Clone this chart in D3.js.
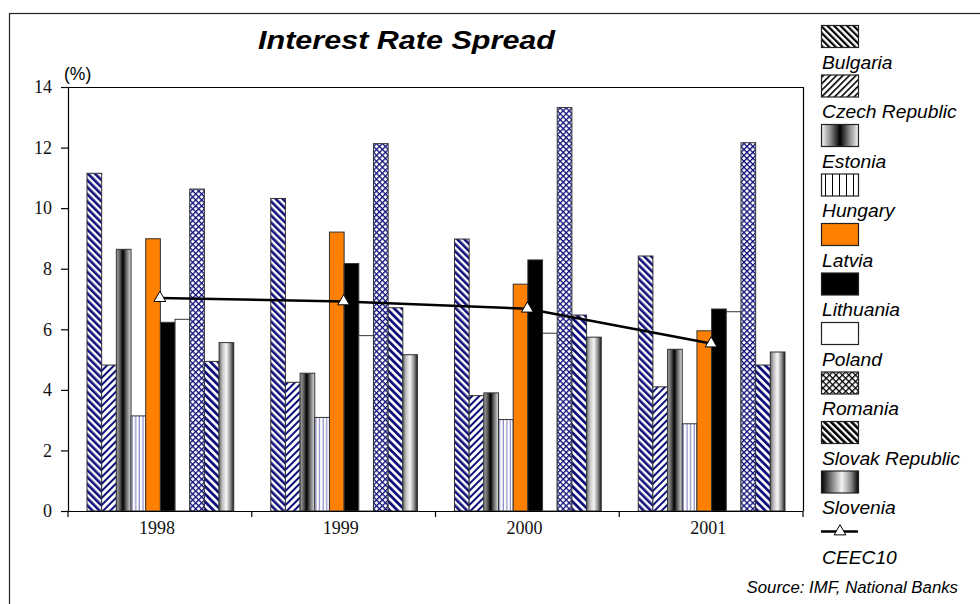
<!DOCTYPE html>
<html>
<head>
<meta charset="utf-8">
<script src="https://cdn.jsdelivr.net/npm/d3@7"></script>
<style>
  html, body { margin: 0; padding: 0; background: #fff; }
  svg { display: block; }
</style>
</head>
<body>
<svg id="chart" width="980" height="604"></svg>
<script>
// Interest rate spread by country, 1998–2001 (%)
const years = ["1998", "1999", "2000", "2001"];
const countries = ["Bulgaria", "Czech Republic", "Estonia", "Hungary", "Latvia",
  "Lithuania", "Poland", "Romania", "Slovak Republic", "Slovenia"];
const bulgaria  = [11.15, 10.32, 8.98, 8.42];
const czech     = [4.82, 4.25, 3.81, 4.10];
const estonia   = [8.64, 4.55, 3.90, 5.34];
const hungary   = [3.14, 3.09, 3.02, 2.88];
const latvia    = [8.99, 9.21, 7.49, 5.95];
const lithuania = [6.23, 8.17, 8.29, 6.67];
const poland    = [6.33, 5.79, 5.87, 6.58];
const romania   = [10.63, 12.13, 13.32, 12.16];
const slovak    = [4.94, 6.71, 6.47, 4.82];
const slovenia  = [5.56, 5.16, 5.74, 5.25];
const ceec10    = [7.03, 6.92, 6.68, 5.53];
const yTicks = [0, 2, 4, 6, 8, 10, 12, 14];

const seriesValues = [bulgaria, czech, estonia, hungary, latvia,
  lithuania, poland, romania, slovak, slovenia];

const svg = d3.select("#chart");
const defs = svg.append("defs");

// --- fills -------------------------------------------------------------
function stripes(id, color, angle, period, width) {
  const p = defs.append("pattern").attr("id", id)
    .attr("patternUnits", "userSpaceOnUse")
    .attr("width", period).attr("height", period)
    .attr("patternTransform", `rotate(${angle})`);
  p.append("rect").attr("width", period).attr("height", period).attr("fill", "#fff");
  p.append("rect").attr("x", 0).attr("y", 0).attr("width", width).attr("height", period).attr("fill", color);
}
function cross(id, color, period, width) {
  const p = defs.append("pattern").attr("id", id)
    .attr("patternUnits", "userSpaceOnUse")
    .attr("width", period).attr("height", period)
    .attr("patternTransform", "rotate(45)");
  p.append("rect").attr("width", period).attr("height", period).attr("fill", "#fff");
  p.append("rect").attr("width", width).attr("height", period).attr("fill", color);
  p.append("rect").attr("width", period).attr("height", width).attr("fill", color);
}
function vlines(id, color, period, width) {
  const p = defs.append("pattern").attr("id", id)
    .attr("patternUnits", "userSpaceOnUse")
    .attr("width", period).attr("height", period);
  p.append("rect").attr("width", period).attr("height", period).attr("fill", "#fff");
  p.append("rect").attr("x", period - width).attr("width", width).attr("height", period).attr("fill", color);
}
function gradient(id, stops) {
  const g = defs.append("linearGradient").attr("id", id)
    .attr("x1", "0%").attr("x2", "100%").attr("y1", "0%").attr("y2", "0%");
  stops.forEach(([o, c]) => g.append("stop").attr("offset", o).attr("stop-color", c));
}
const navy = "#10107a";
stripes("bul", navy, -45, 5, 2.6);
stripes("cze", navy, 45, 5, 2.0);
gradient("est", [[0, "#a8a8a8"], [0.25, "#5a5a5a"], [0.45, "#000"], [0.7, "#707070"], [1, "#e2e2e2"]]);
vlines("hun", "#8a8ac8", 3.6, 1.2);
cross("rom", navy, 4.2, 1.3);
stripes("slk", navy, -45, 5.4, 2.8);
gradient("slv", [[0, "#6a6a6a"], [0.25, "#c8c8c8"], [0.5, "#f6f6f6"], [0.78, "#8a8a8a"], [1, "#1a1a1a"]]);

// legend swatch fills (black on white)
stripes("lbul", "#000", -45, 4.6, 2.2);
stripes("lcze", "#000", 45, 4.6, 1.6);
gradient("lest", [[0, "#f4f4f4"], [0.25, "#888"], [0.5, "#000"], [0.75, "#888"], [1, "#f4f4f4"]]);
vlines("lhun", "#000", 7, 1);
cross("lrom", "#000", 4.6, 1.3);
stripes("lslk", "#000", -45, 4.8, 2.6);
gradient("lslv", [[0, "#000"], [0.3, "#8a8a8a"], [0.55, "#f4f4f4"], [0.8, "#8a8a8a"], [1, "#000"]]);

const barFills = ["url(#bul)", "url(#cze)", "url(#est)", "url(#hun)", "#ff8000",
  "#000", "#fff", "url(#rom)", "url(#slk)", "url(#slv)"];
const legendFills = ["url(#lbul)", "url(#lcze)", "url(#lest)", "url(#lhun)", "#ff8000",
  "#000", "#fff", "url(#lrom)", "url(#lslk)", "url(#lslv)"];

const sans = "'Liberation Sans', Arial, sans-serif";
const serif = "'Liberation Serif', 'Times New Roman', serif";

// --- frame ---------------------------------------------------------------
svg.append("rect").attr("x", 9.5).attr("y", 13.5).attr("width", 1000).attr("height", 620)
  .attr("fill", "none").attr("stroke", "#222").attr("stroke-width", 1.2);

// --- scales --------------------------------------------------------------
const plot = { left: 68, right: 803, top: 87, bottom: 511 };
const x0 = d3.scaleBand().domain(years).range([plot.left, plot.right]).padding(0);
const bw = x0.bandwidth();
const x1 = d3.scaleBand().domain(countries).range([19, bw - 18]).padding(0);
const y = d3.scaleLinear().domain([0, 14]).range([plot.bottom, plot.top]);

// plot border (top and right)
svg.append("path")
  .attr("d", `M${plot.left},${plot.top + 0.5}H${plot.right + 0.5}V${plot.bottom}`)
  .attr("fill", "none").attr("stroke", "#000").attr("stroke-width", 1.2);

// --- bars ----------------------------------------------------------------
const groups = svg.append("g").selectAll("g").data(years).join("g")
  .attr("transform", d => `translate(${x0(d)},0)`);
groups.selectAll("rect")
  .data((yr, yi) => countries.map((c, ci) => ({ c, ci, v: seriesValues[ci][yi] })))
  .join("rect")
  .attr("x", d => x1(d.c))
  .attr("y", d => y(d.v))
  .attr("width", x1.bandwidth())
  .attr("height", d => y(0) - y(d.v))
  .attr("fill", d => barFills[d.ci])
  .attr("stroke", "#333").attr("stroke-width", 1);

// --- axes ----------------------------------------------------------------
const yAxis = svg.append("g").attr("transform", `translate(${plot.left},0)`)
  .call(d3.axisLeft(y).tickValues(yTicks).tickFormat(d3.format("d")).tickSize(7).tickPadding(9));
yAxis.select(".domain").attr("stroke-width", 1.2);
yAxis.selectAll("line").attr("stroke-width", 1.2);
yAxis.selectAll("text").attr("font-family", serif).attr("font-size", 18).attr("fill", "#111");

const xAxis = svg.append("g").attr("transform", `translate(0,${plot.bottom})`)
  .call(d3.axisBottom(x0).tickSize(0).tickPadding(10));
xAxis.select(".domain").attr("stroke-width", 1.2).attr("d", `M${plot.left},0.5H${plot.right}`);
xAxis.selectAll("text").attr("font-family", serif).attr("font-size", 18).attr("fill", "#111").attr("dx", -3);
// category boundary ticks
const bounds = years.map(d => x0(d)).concat([plot.right]);
xAxis.selectAll("line.bound").data(bounds).join("line").attr("class", "bound")
  .attr("x1", d => d).attr("x2", d => d).attr("y1", 0).attr("y2", 6)
  .attr("stroke", "#000").attr("stroke-width", 1.2);

svg.append("text").attr("x", 64).attr("y", 80)
  .attr("font-family", sans).attr("font-size", 17.5)
  .text("(%)");

// --- CEEC10 average line ---------------------------------------------------
const pts = years.map((yr, i) => [x0(yr) + bw / 2, y(ceec10[i])]);
svg.append("path").attr("d", d3.line()(pts))
  .attr("fill", "none").attr("stroke", "#000").attr("stroke-width", 2.5);
const tri = d3.symbol().type(d3.symbolTriangle).size(60);
svg.selectAll("path.mk").data(pts).join("path").attr("class", "mk")
  .attr("transform", d => `translate(${d[0]},${d[1]})`)
  .attr("d", tri()).attr("fill", "#fff").attr("stroke", "#000").attr("stroke-width", 1);

// --- title -----------------------------------------------------------------
svg.append("text").attr("x", 406.5).attr("y", 49).attr("text-anchor", "middle")
  .attr("font-family", sans).attr("font-size", 25)
  .attr("font-weight", "bold").attr("font-style", "italic")
  .attr("textLength", 297).attr("lengthAdjust", "spacingAndGlyphs")
  .text("Interest Rate Spread");

// --- legend ----------------------------------------------------------------
const lg = svg.append("g");
const pitch = 49.5;
const legendLabel = (txt, yPos) => lg.append("text")
  .attr("transform", `translate(822,${yPos}) scale(1.04,1)`)
  .attr("font-family", sans).attr("font-size", 18.5)
  .attr("font-style", "italic").text(txt);
countries.forEach((c, i) => {
  lg.append("rect").attr("x", 821.5).attr("y", 25.5 + i * pitch).attr("width", 37).attr("height", 22)
    .attr("fill", legendFills[i]).attr("stroke", "#222").attr("stroke-width", 1.2);
  legendLabel(c, 68.7 + i * pitch);
});
const ly = 25.5 + countries.length * pitch + 11;
lg.append("line").attr("x1", 821).attr("x2", 858).attr("y1", ly).attr("y2", ly)
  .attr("stroke", "#000").attr("stroke-width", 2.5);
lg.append("path").attr("transform", `translate(840,${ly})`).attr("d", tri())
  .attr("fill", "#fff").attr("stroke", "#000").attr("stroke-width", 1);
legendLabel("CEEC10", 68.7 + countries.length * pitch);

svg.append("text").attr("x", 958).attr("y", 593).attr("text-anchor", "end")
  .attr("font-family", sans).attr("font-size", 16.8)
  .attr("font-style", "italic").text("Source: IMF, National Banks");
</script>
</body>
</html>
